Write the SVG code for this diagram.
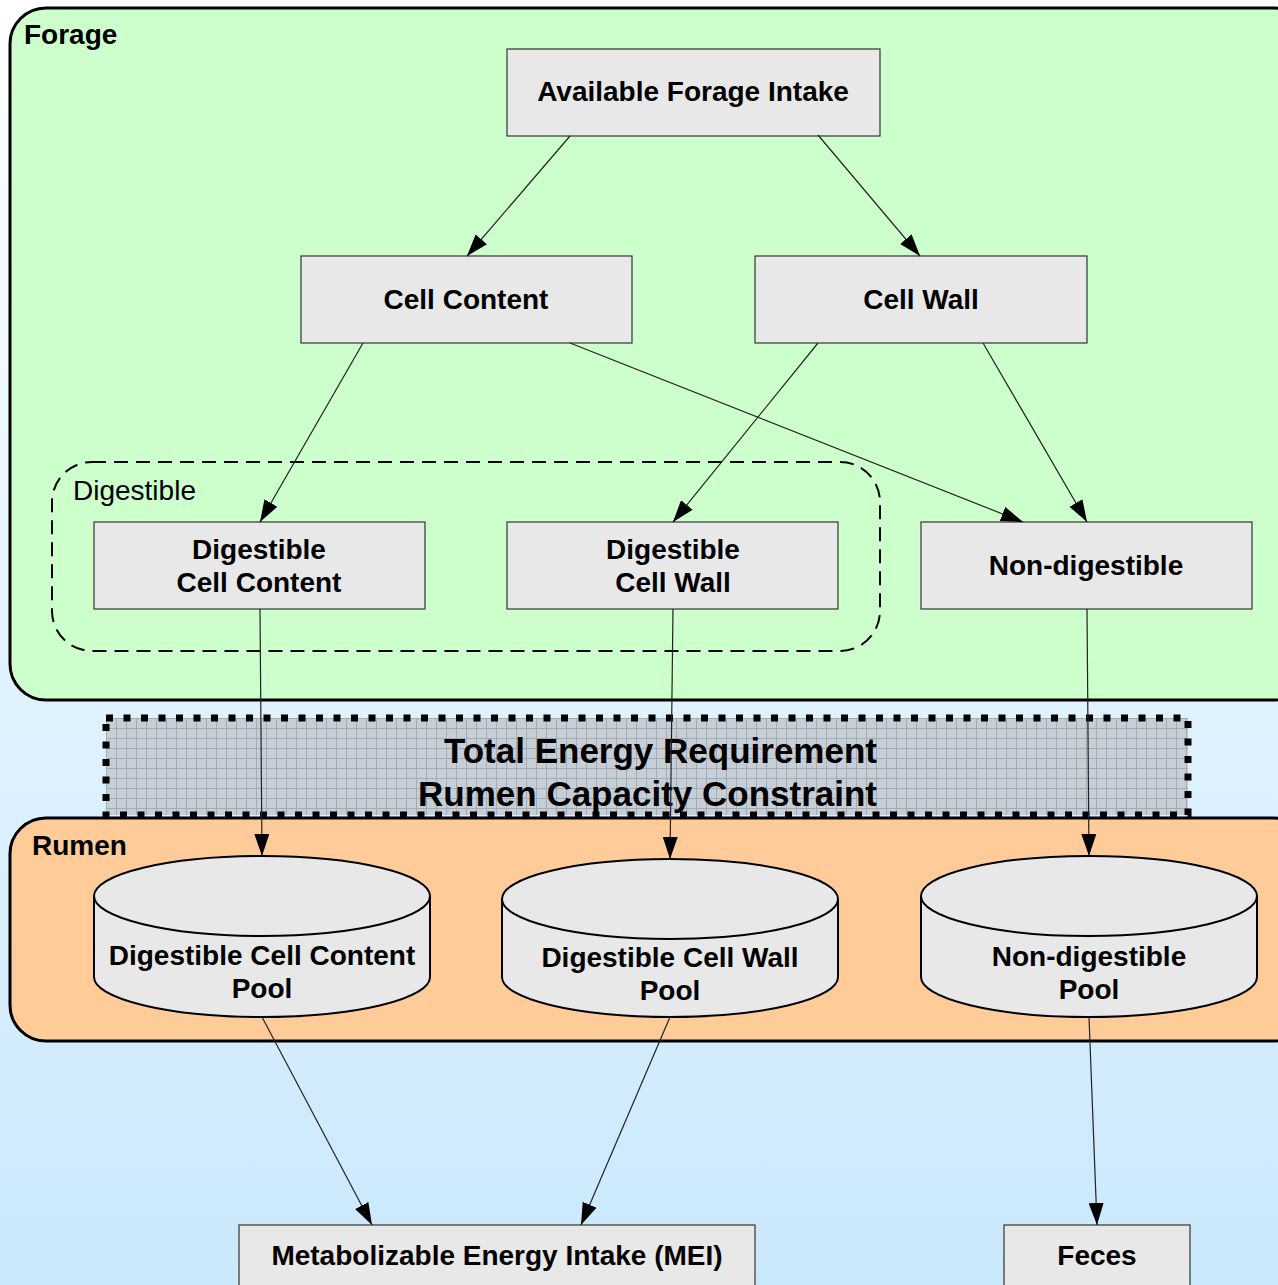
<svg xmlns="http://www.w3.org/2000/svg" width="1278" height="1285" viewBox="0 0 1278 1285">
<defs>
<linearGradient id="bg" x1="0" y1="0" x2="0" y2="1">
<stop offset="0" stop-color="#ffffff"/>
<stop offset="0.5" stop-color="#e2f3fe"/>
<stop offset="1" stop-color="#cae8fc"/>
</linearGradient>
<pattern id="grid" width="10" height="10" patternUnits="userSpaceOnUse" x="106" y="718">
<rect width="10" height="10" fill="#c6cfd8"/>
<path d="M0,0.5 H10 M0.5,0 V10" stroke="#a3abb3" stroke-width="1"/>
</pattern>
<marker id="arr" viewBox="0 0 22 15" refX="22" refY="7.5" markerWidth="22" markerHeight="15" markerUnits="userSpaceOnUse" orient="auto">
<path d="M0,0 L22,7.5 L0,15 z" fill="#000"/>
</marker>
<style>
.box{fill:#e8e8e8;stroke:#333;stroke-width:1.2}
.cyl{fill:#e8e8e8;stroke:#000;stroke-width:2}
.t{font-family:"Liberation Sans",Arial,sans-serif;font-weight:bold;font-size:28px;fill:#000;text-anchor:middle}
.lab{font-family:"Liberation Sans",Arial,sans-serif;font-weight:bold;font-size:28px;fill:#000}
.edge{stroke:#222;stroke-width:1.2;fill:none;marker-end:url(#arr)}
</style>
</defs>
<rect width="1278" height="1285" fill="url(#bg)"/>

<g id="forage">
<rect x="10" y="8" width="1300" height="692" rx="36" fill="#ccffcc" stroke="#000" stroke-width="3"/>
<text class="lab" x="24" y="44">Forage</text>
</g>

<g id="digestible-group">
<rect x="52" y="462" width="828" height="189" rx="40" fill="none" stroke="#000" stroke-width="2" stroke-dasharray="14 8"/>
<text x="73" y="500" font-family="Liberation Sans, Arial, sans-serif" font-size="28" fill="#000">Digestible</text>
</g>

<g id="constraint">
<rect x="106" y="718" width="1082" height="97" fill="url(#grid)" stroke="#000" stroke-width="7" stroke-dasharray="7 10.5"/>
<text class="lab" x="877" y="763" text-anchor="end" style="font-size:35px">Total Energy Requirement</text>
<text class="lab" x="877" y="806" text-anchor="end" style="font-size:35px">Rumen Capacity Constraint</text>
</g>

<g id="rumen">
<rect x="10" y="818" width="1300" height="223" rx="36" fill="#ffcc99" stroke="#000" stroke-width="3"/>
<text class="lab" x="32" y="855">Rumen</text>
</g>

<g id="afi">
<rect class="box" x="507" y="49" width="373" height="87"/>
<text class="t" x="693" y="101">Available Forage Intake</text>
</g>
<g id="cell-content">
<rect class="box" x="301" y="256" width="331" height="87"/>
<text class="t" x="466" y="309">Cell Content</text>
</g>
<g id="cell-wall">
<rect class="box" x="755" y="256" width="332" height="87"/>
<text class="t" x="921" y="309">Cell Wall</text>
</g>
<g id="dcc">
<rect class="box" x="94" y="522" width="331" height="87"/>
<text class="t" x="259" y="559">Digestible</text>
<text class="t" x="259" y="592">Cell Content</text>
</g>
<g id="dcw">
<rect class="box" x="507" y="522" width="331" height="87"/>
<text class="t" x="673" y="559">Digestible</text>
<text class="t" x="673" y="592">Cell Wall</text>
</g>
<g id="nd">
<rect class="box" x="921" y="522" width="331" height="87"/>
<text class="t" x="1086" y="575">Non-digestible</text>
</g>

<g id="dcc-pool">
<path class="cyl" d="M94,896 V977 A168,40 0 0 0 430,977 V896"/>
<ellipse class="cyl" cx="262" cy="896" rx="168" ry="40"/>
<text class="t" x="262" y="965">Digestible Cell Content</text>
<text class="t" x="262" y="998">Pool</text>
</g>
<g id="dcw-pool">
<path class="cyl" d="M502,899 V977 A168,40 0 0 0 838,977 V899"/>
<ellipse class="cyl" cx="670" cy="899" rx="168" ry="40"/>
<text class="t" x="670" y="967">Digestible Cell Wall</text>
<text class="t" x="670" y="1000">Pool</text>
</g>
<g id="nd-pool">
<path class="cyl" d="M921,896 V977 A168,40 0 0 0 1257,977 V896"/>
<ellipse class="cyl" cx="1089" cy="896" rx="168" ry="40"/>
<text class="t" x="1089" y="966">Non-digestible</text>
<text class="t" x="1089" y="999">Pool</text>
</g>

<g id="mei">
<rect class="box" x="239" y="1225" width="516" height="80"/>
<text class="t" x="497" y="1265">Metabolizable Energy Intake (MEI)</text>
</g>
<g id="feces">
<rect class="box" x="1004" y="1225" width="186" height="80"/>
<text class="t" x="1097" y="1265">Feces</text>
</g>

<g id="connectors">
<line class="edge" x1="570" y1="136" x2="467" y2="256"/>
<line class="edge" x1="818" y1="135" x2="920" y2="256"/>
<line class="edge" x1="363" y1="343" x2="260" y2="522"/>
<line class="edge" x1="570" y1="343" x2="1023" y2="522"/>
<line class="edge" x1="818" y1="343" x2="673" y2="522"/>
<line class="edge" x1="983" y1="343" x2="1087" y2="522"/>
<line class="edge" x1="260" y1="609" x2="262" y2="856"/>
<line class="edge" x1="673" y1="609" x2="670" y2="859"/>
<line class="edge" x1="1087" y1="609" x2="1089" y2="856"/>
<line class="edge" x1="262" y1="1017" x2="372" y2="1225"/>
<line class="edge" x1="670" y1="1017" x2="581" y2="1225"/>
<line class="edge" x1="1089" y1="1017" x2="1097" y2="1225"/>
</g>
</svg>
